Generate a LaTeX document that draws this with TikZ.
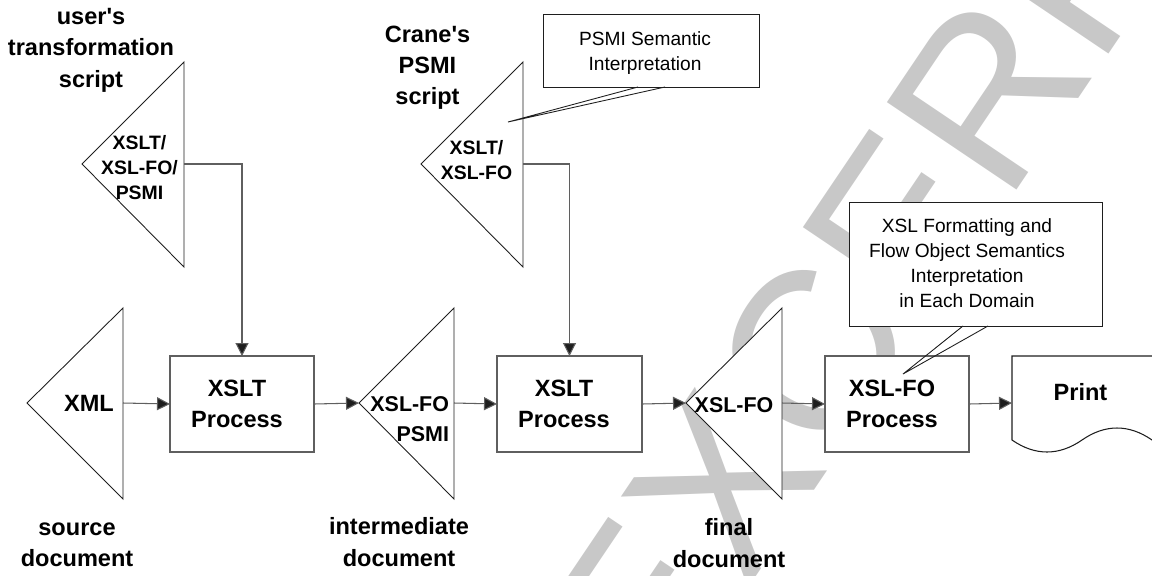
\documentclass[tikz,border=0pt]{standalone}
\usepackage{fontspec}
\setmainfont{Liberation Sans}
\usetikzlibrary{arrows.meta,calc}

\definecolor{wmgray}{RGB}{200,200,200}
\definecolor{edge}{RGB}{30,30,30}
\definecolor{boxedge}{RGB}{95,95,95}

\begin{document}
\begin{tikzpicture}[x=0.02cm, y=-0.02cm,
  every node/.style={inner sep=0pt, outer sep=0pt},
  bigbold/.style={font=\fontsize{13.4}{17.9}\selectfont\bfseries, align=center},
  smallbold/.style={font=\fontsize{11.05}{14.2}\selectfont\bfseries, align=center},
  midbold/.style={font=\fontsize{12.2}{17}\selectfont\bfseries},
  calltext/.style={font=\fontsize{10.9}{14.2}\selectfont, align=center},
  watermark/.style={font=\fontsize{129.3}{130}\selectfont, text=wmgray},
  tri/.style={draw=edge, line width=0.5pt, fill=white, line join=miter},
  procbox/.style={draw=boxedge, line width=0.75pt, fill=white,
    minimum width=2.88cm, minimum height=1.92cm},
  callbox/.style={draw=edge, line width=0.55pt, fill=white},
  pointer/.style={draw=edge, line width=0.5pt},
  conn/.style={draw=boxedge, line width=0.6pt,
    -{Triangle[length=7.4pt,width=7.4pt,fill=edge]}},
  docshape/.style={draw=edge, line width=0.6pt, fill=white},
]
\useasboundingbox (0,0) rectangle (1152,575);
\clip (0,0) rectangle (1152,575);

% background stamp
\node[watermark, anchor=base west, rotate=56] (stamp) at (661,718) {EXCERPT};

% document / script triangles
\draw[tri] (184,62) -- (184,267) -- (82,164) -- cycle;
\coordinate (s1out) at (184,164);
\draw[tri] (523,62) -- (523,267) -- (421,164) -- cycle;
\coordinate (s2out) at (523,164);
\draw[tri] (123,308) -- (123,499) -- (27,403) -- cycle;
\coordinate (xmlout) at (123,403);
\draw[tri] (454,308) -- (454,499) -- (359,403) -- cycle;
\coordinate (t2in) at (359,403);
\coordinate (t2out) at (454,403);
\draw[tri] (782,308) -- (782,499) -- (686,403) -- cycle;
\coordinate (t4in) at (686,403);
\coordinate (t4out) at (782,403);

% process boxes
\node[procbox] (p1) at (242,404) {};
\node[procbox, minimum width=2.9cm] (p2) at (569.5,404) {};
\node[procbox] (p3) at (897,404) {};

% printed output
\draw[docshape] (1012,440) .. controls (1035,456) and (1059,456) .. (1082,440)
  .. controls (1105,424) and (1129,424) .. (1152,440) -- (1162,447)
  -- (1162,356) -- (1012,356) -- cycle;
\coordinate (printin) at (1012,403);

% callouts
\node[callbox, minimum width=4.32cm, minimum height=1.46cm] (c1) at (651,50.5) {};
\coordinate (c1tip) at (508,122);
\draw[pointer] ($(c1.south)+(-13,0)$) -- (c1tip) -- ($(c1.south)+(14,0)$);
\node[callbox, minimum width=5.06cm, minimum height=2.48cm] (c2) at (975.5,264) {};
\coordinate (c2tip) at (903,374);
\draw[pointer] ($(c2.south)+(-12.5,0)$) -- (c2tip) -- ($(c2.south)+(12.5,0)$);

% labels
\node[bigbold] (lab1) at (91,50.2) {user\textquotesingle s\\transformation\\script};
\node[bigbold] (lab2) at (427.5,67.7) {Crane\textquotesingle s\\PSMI\\script};
\node[smallbold] (s1t) at (139.5,168) {XSLT/\\XSL-FO/\\PSMI};
\node[smallbold] (s2t) at (476.5,160.5) {XSLT/\\XSL-FO};
\node[bigbold, anchor=base] (xmlt) at (89,411.7) {XML};
\node[midbold, align=right, anchor=east] (t2t) at (449,419) {XSL-FO\\PSMI};
\node[midbold, anchor=base] (t4t) at (734,412.7) {XSL-FO};
\node[bigbold] (p1t) at (237,404) {XSLT\\Process};
\node[bigbold] (p2t) at (564,404) {XSLT\\Process};
\node[bigbold] (p3t) at (892,404) {XSL-FO\\Process};
\node[bigbold, anchor=base] (printt) at (1080.5,400.7) {Print};
\node[calltext] (c1t) at (645,52.6) {PSMI Semantic\\Interpretation};
\node[calltext] (c2t) at (967,263.5) {XSL Formatting and\\Flow Object Semantics\\Interpretation\\in Each Domain};
\node[bigbold] (lab3) at (77,544.7) {source\\document};
\node[bigbold] (lab4) at (399,542) {intermediate\\document};
\node[bigbold] (lab5) at (729,543) {final\\document};

% flow connectors
\draw[conn] (s1out) -| (p1.north);
\draw[conn] (s2out) -| (p2.north);
\draw[conn] (xmlout) -- (p1.west);
\draw[conn] (p1.east) -- (t2in);
\draw[conn] (t2out) -- (p2.west);
\draw[conn] (p2.east) -- (t4in);
\draw[conn] (t4out) -- (p3.west);
\draw[conn] (p3.east) -- (printin);
\end{tikzpicture}
\end{document}
